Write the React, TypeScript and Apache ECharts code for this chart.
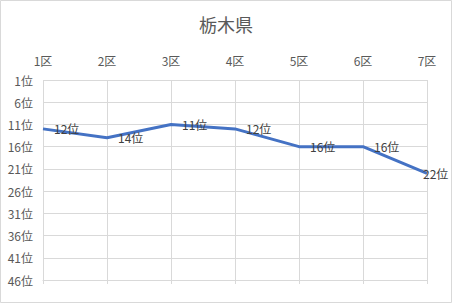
import React, { useEffect, useRef } from "react";
import * as echarts from "echarts";

const titleText = "栃木県";
const categories = ["1区", "2区", "3区", "4区", "5区", "6区", "7区"];
const ranks = [12, 14, 11, 12, 16, 16, 22];
const rankMin = 1;
const rankMax = 46;
const rankStep = 5;

const FONT = '"Noto Sans CJK JP", "Noto Sans", sans-serif';

export default function App() {
  const ref = useRef<HTMLDivElement>(null);
  useEffect(() => {
    if (!ref.current) return;
    const chart = echarts.init(ref.current, null, { renderer: "svg" });
    const data = ranks.map((v, i) =>
      i === ranks.length - 1 ? { value: v, label: { distance: -4 } } : { value: v }
    );
    chart.setOption({
      animation: false,
      backgroundColor: "#ffffff",
      textStyle: { fontFamily: FONT },
      title: {
        text: titleText,
        left: "center",
        top: 10,
        textStyle: { fontFamily: FONT, fontSize: 18, fontWeight: "normal", color: "#595959" },
      },
      graphic: [
        {
          type: "rect",
          shape: { x: 0.5, y: 0.5, width: 451, height: 302 },
          style: { fill: "none", stroke: "#d9d9d9", lineWidth: 1 },
          silent: true,
        },
      ],
      grid: { left: 43, right: 25, top: 80, bottom: 23 },
      xAxis: [
        {
          type: "category",
          data: categories,
          position: "top",
          boundaryGap: false,
          axisLine: { show: false },
          axisTick: { show: false },
          axisLabel: { color: "#595959", fontSize: 12, fontFamily: FONT, margin: 14 },
          splitLine: { show: true, lineStyle: { color: "#d9d9d9", width: 1 } },
        },
        {
          type: "category",
          data: categories,
          position: "bottom",
          boundaryGap: false,
          axisLine: { show: true, lineStyle: { color: "#d9d9d9", width: 1 } },
          axisTick: { show: true, length: 4, alignWithLabel: true, lineStyle: { color: "#d9d9d9" } },
          axisLabel: { show: false },
          splitLine: { show: false },
        },
      ],
      yAxis: {
        type: "value",
        inverse: true,
        min: rankMin,
        max: rankMax,
        interval: rankStep,
        axisLine: { show: false },
        axisTick: { show: false },
        axisLabel: {
          color: "#595959",
          fontSize: 12,
          fontFamily: FONT,
          margin: 10,
          formatter: (v: number) => `${v}位`,
        },
        splitLine: { show: true, lineStyle: { color: "#d9d9d9", width: 1 } },
      },
      series: [
        {
          type: "line",
          xAxisIndex: 0,
          data,
          showSymbol: true,
          symbol: "circle",
          symbolSize: 0,
          lineStyle: { color: "#4472C4", width: 3 },
          itemStyle: { color: "#4472C4" },
          labelLayout: { hideOverlap: false },
          label: {
            show: true,
            position: "right",
            distance: 11,
            color: "#404040",
            fontSize: 12,
            fontFamily: FONT,
            formatter: (p: any) => `${p.value}位`,
          },
        },
      ],
    });
    return () => chart.dispose();
  }, []);
  return (
    <div
      ref={ref}
      style={{ position: "fixed", left: 0, top: 0, width: 452, height: 303 }}
    />
  );
}
